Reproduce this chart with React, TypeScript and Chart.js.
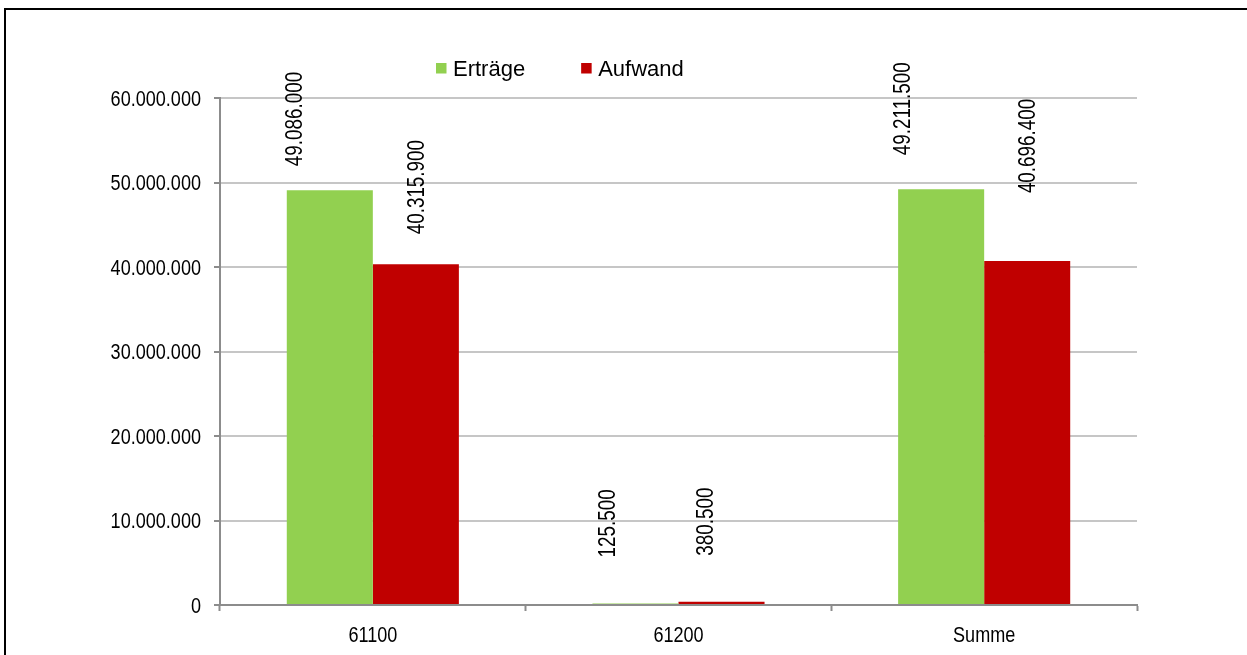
import React, { useEffect, useRef } from "react";
import { Chart, registerables } from "chart.js";

Chart.register(...registerables);

// ---- data ----
const categories = ["61100", "61200", "Summe"];
const seriesNames = ["Erträge", "Aufwand"];
const ertraege = [49086000, 125500, 49211500];
const aufwand = [40315900, 380500, 40696400];
const yTickValues = [0, 10000000, 20000000, 30000000, 40000000, 50000000, 60000000];

// ---- styling ----
const colors = ["#92d050", "#c00000"];
const regular = "'Liberation Sans', Arial, sans-serif";
const condense = 0.84; // horizontal squeeze to mimic a narrow face
// manual label placement offsets (px) relative to bar top-centre, per series
const labelDx = [
  [-35, -28, -38],
  [1, -16, 0],
];
const labelGap = [
  [24, 46, 34],
  [30, 46, 68],
];

const fmt = (v: number) => String(Math.round(v)).replace(/\B(?=(\d{3})+(?!\d))/g, ".");

const decorPlugin = {
  id: "decor",
  beforeDraw(chart: any) {
    const ctx = chart.ctx;
    ctx.save();
    ctx.fillStyle = "#ffffff";
    ctx.fillRect(0, 0, chart.width, chart.height);
    ctx.restore();
  },
  afterDraw(chart: any) {
    const ctx = chart.ctx;
    const xs = chart.scales.x;
    const ys = chart.scales.y;
    ctx.save();
    // outer frame (top & left visible)
    ctx.fillStyle = "#000000";
    ctx.fillRect(4, 8, chart.width - 4, 2);
    ctx.fillRect(4, 8, 2, chart.height - 8);

    // y tick labels
    ctx.font = `21.5px ${regular}`;
    ctx.fillStyle = "#000000";
    ctx.textAlign = "right";
    ctx.textBaseline = "middle";
    yTickValues.forEach((v) => {
      const y = ys.getPixelForValue(v);
      ctx.save();
      ctx.translate(chart.chartArea.left - 19, y + 2);
      ctx.scale(condense, 1);
      ctx.fillText(fmt(v), 0, 0);
      ctx.restore();
    });

    // x tick labels
    ctx.textAlign = "center";
    ctx.textBaseline = "alphabetic";
    categories.forEach((c, i) => {
      const x = xs.getPixelForTick(i);
      ctx.save();
      ctx.translate(x, chart.chartArea.bottom + 37);
      ctx.scale(condense, 1);
      ctx.fillText(c, 0, 0);
      ctx.restore();
    });

    // legend
    ctx.font = `22px ${regular}`;
    ctx.textBaseline = "alphabetic";
    ctx.textAlign = "left";
    let x = 436;
    chart.data.datasets.forEach((ds: any) => {
      ctx.fillStyle = ds.backgroundColor;
      ctx.fillRect(x, 63, 10.5, 10.5);
      ctx.fillStyle = "#000000";
      ctx.fillText(ds.label, x + 17, 76);
      x += 17 + ctx.measureText(ds.label).width + 56;
    });

    // data labels (rotated)
    ctx.font = `23px ${regular}`;
    ctx.fillStyle = "#000000";
    ctx.textAlign = "left";
    ctx.textBaseline = "middle";
    chart.data.datasets.forEach((ds: any, i: number) => {
      const meta = chart.getDatasetMeta(i);
      meta.data.forEach((el: any, j: number) => {
        const lx = el.x + labelDx[i][j];
        const ly = el.y - labelGap[i][j];
        ctx.save();
        ctx.translate(lx, ly);
        ctx.rotate(-Math.PI / 2);
        ctx.scale(0.82, 1);
        ctx.fillText(fmt(ds.data[j]), 0, 1);
        ctx.restore();
      });
    });
    ctx.restore();
  },
};

export default function App() {
  const ref = useRef<HTMLCanvasElement | null>(null);

  useEffect(() => {
    if (!ref.current) return;
    const axisColor = "#8c8c8c";
    const gridColor = "#c6c6c6";
    const chart = new Chart(ref.current, {
      type: "bar",
      data: {
        labels: categories,
        datasets: [
          { label: seriesNames[0], data: ertraege, backgroundColor: colors[0] },
          { label: seriesNames[1], data: aufwand, backgroundColor: colors[1] },
        ],
      },
      options: {
        responsive: false,
        animation: false,
        devicePixelRatio: 1,
        layout: { padding: { top: 98, right: 110, left: 0, bottom: 0 } },
        datasets: { bar: { categoryPercentage: 0.563, barPercentage: 1, borderWidth: 0, minBarLength: 1.5 } },
        plugins: { legend: { display: false }, tooltip: { enabled: false }, title: { display: false } },
        scales: {
          x: {
            type: "category",
            grid: {
              display: true,
              drawOnChartArea: false,
              drawTicks: true,
              tickLength: 6,
              tickColor: axisColor,
              tickWidth: 2,
              offset: true,
            },
            border: { display: true, color: axisColor, width: 2 },
            ticks: { display: false },
            afterFit: (s: any) => {
              s.height = 50;
            },
          },
          y: {
            min: 0,
            max: 60000000,
            afterBuildTicks: (s: any) => {
              s.ticks = yTickValues.map((v) => ({ value: v }));
            },
            ticks: { display: false },
            grid: {
              color: (c: any) => (c.tick && c.tick.value === 0 ? axisColor : gridColor),
              lineWidth: 2,
              drawTicks: true,
              tickLength: 6,
              tickColor: axisColor,
              tickWidth: 2,
            },
            border: { display: true, color: axisColor, width: 2 },
            afterFit: (s: any) => {
              s.width = 220;
            },
          },
        },
      },
      plugins: [decorPlugin],
    } as any);
    return () => chart.destroy();
  }, []);

  return (
    <div style={{ position: "fixed", left: 0, top: 0, width: 1247, height: 655, background: "#fff" }}>
      <canvas ref={ref} width={1247} height={655} style={{ display: "block", width: 1247, height: 655 }} />
    </div>
  );
}
